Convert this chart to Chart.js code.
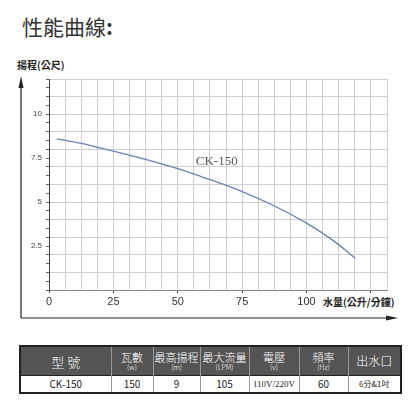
<!DOCTYPE html><html><head><meta charset="utf-8">
<script src="https://cdn.jsdelivr.net/npm/chart.js@4"></script>
<style>
body{margin:0;width:410px;height:410px;background:#fff;position:relative;font-family:"Noto Sans CJK TC","Noto Sans",sans-serif;overflow:hidden}
.abs{position:absolute;white-space:nowrap}
table{position:absolute;left:19px;top:345px;border-collapse:collapse;border:2px solid #222;table-layout:fixed}
td{padding:0;text-align:center;border-left:1px solid #999;color:#fff;line-height:1;white-space:nowrap;overflow:hidden}
tr.h td{background:#555;height:28px;font-size:11px;font-weight:300}
tr.h td small{display:block;font-size:7px;margin-top:1px}
tr.d td{background:#fff;color:#222;height:16px;font-size:10px;border-top:1px solid #222}
</style></head><body>
<div class="abs" style="left:22px;top:11px;font-size:21px;color:#333">性能曲線<b>:</b></div>
<div class="abs" style="left:17px;top:57px;font-size:10px;font-weight:bold;color:#222">揚程(公尺)</div>
<div class="abs" style="left:323px;top:294px;font-size:10px;font-weight:bold;color:#222">水量(公升/分鐘)</div>
<canvas id="c" width="410" height="330" style="position:absolute;left:0;top:0;width:410px;height:330px"></canvas>
<table>
<colgroup><col style="width:91px"><col style="width:42px"><col style="width:47px"><col style="width:49px"><col style="width:50px"><col style="width:49px"><col style="width:53px"></colgroup>
<tr class="h"><td style="font-size:13px">型 號</td><td>瓦數<small>(w)</small></td><td>最高揚程<small>(m)</small></td><td>最大流量<small>(LPM)</small></td><td>電壓<small>(v)</small></td><td>頻率<small>(Hz)</small></td><td style="font-size:12px">出水口</td></tr>
<tr class="d"><td>CK-150</td><td>150</td><td>9</td><td>105</td><td style="font-family:'Liberation Serif';font-size:9px">110V/220V</td><td>60</td><td style="font-size:8px">6分&amp;1吋</td></tr>
</table>
<script>
const flow=[3,12,25,37,50,62,75,88,100,110,119];
const head=[8.6,8.35,7.9,7.45,6.9,6.3,5.6,4.75,3.8,2.85,1.8];
const seriesName="CK-150";
const xTicks=[0,25,50,75,100];
const yTicks=[2.5,5,7.5,10];
const extras={id:'ex',afterDraw(ch){const c=ch.ctx,x=ch.scales.x,y=ch.scales.y;
c.save();c.fillStyle='#555';c.font='13px "Liberation Serif"';c.textAlign='left';c.textBaseline='middle';
c.fillText(seriesName,x.getPixelForValue(57),y.getPixelForValue(7.3));
c.strokeStyle='#222';c.fillStyle='#222';c.lineWidth=1.2;c.beginPath();c.moveTo(21,318);c.lineTo(21,82);c.moveTo(21,318);c.lineTo(392,318);c.stroke();
c.beginPath();c.moveTo(21,76);c.lineTo(18.5,88);c.lineTo(23.5,88);c.fill();
c.beginPath();c.moveTo(398,318);c.lineTo(386,315.5);c.lineTo(386,320.5);c.fill();c.restore();}};
new Chart(document.getElementById('c'),{type:'line',
data:{datasets:[{label:seriesName,data:flow.map((v,i)=>({x:v,y:head[i]})),borderColor:'#6b80aa',borderWidth:1.3,pointRadius:0,tension:0.4,fill:false}]},
options:{responsive:false,animation:false,layout:{padding:{left:0,top:79,right:23,bottom:0}},
plugins:{legend:{display:false},tooltip:{enabled:false}},
scales:{
x:{type:'linear',min:0,max:131.25,afterFit(s){s.height=40},
afterBuildTicks(s){const t=[];for(let v=0;v<=131.25+1e-6;v+=6.25)t.push({value:v});s.ticks=t},
grid:{color:c=>c.tick&&c.tick.value>0?'#cfcfcf':'#444',drawTicks:true,tickLength:3,tickColor:c=>c.tick&&Math.abs(c.tick.value%25)<1e-6?'#444':'transparent'},border:{color:'#888'},
ticks:{autoSkip:false,maxRotation:0,padding:2,color:'#333',font:{size:11},callback:v=>xTicks.includes(v)?String(v):''}},
y:{type:'linear',min:0,max:12,afterFit(s){s.width=49},
afterBuildTicks(s){const t=[];for(let v=0;v<=12+1e-6;v+=0.5)t.push({value:v});s.ticks=t},
grid:{color:c=>c.tick&&Number.isInteger(c.tick.value)&&c.tick.value>0?'#cfcfcf':'transparent',tickLength:3,tickColor:'#666'},border:{color:'#444'},
ticks:{autoSkip:false,padding:4,color:'#444',font:{size:8},callback:v=>yTicks.includes(v)?String(v):''}}}},
plugins:[extras]});
</script></body></html>
